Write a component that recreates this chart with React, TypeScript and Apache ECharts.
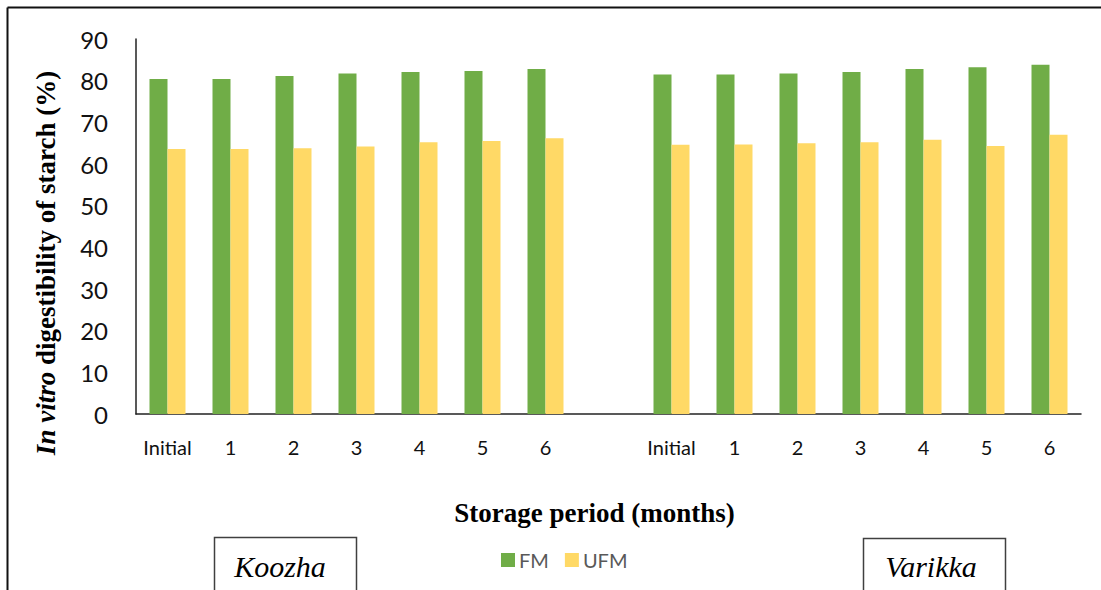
import React, { useEffect, useRef } from "react";
import * as echarts from "echarts";

const categories = ["Initial", "1", "2", "3", "4", "5", "6", "", "Initial", "1", "2", "3", "4", "5", "6"];
const fmValues = [80.4, 80.4, 81.1, 81.7, 82.1, 82.3, 82.8, null, 81.5, 81.5, 81.7, 82.1, 82.8, 83.2, 83.8];
const ufmValues = [63.6, 63.6, 63.8, 64.2, 65.2, 65.5, 66.2, null, 64.6, 64.7, 65.0, 65.2, 65.8, 64.3, 67.0];
const seriesNames = ["FM", "UFM"];
const groupLabels = ["Koozha", "Varikka"];
const yTitleItalic = "In vitro ";
const yTitleRest = "digestibility of starch (%)";
const xTitle = "Storage period (months)";

export default function App() {
  const ref = useRef<HTMLDivElement>(null);
  useEffect(() => {
    const chart = echarts.init(ref.current!, null, { renderer: "svg" });
    const serif = "'Liberation Serif', 'Times New Roman', serif";
    const sans = "Lato, 'Open Sans', sans-serif";
    chart.setOption({
      animation: false,
      backgroundColor: "#ffffff",
      grid: { left: 136, top: 39, right: 20, bottom: 176, containLabel: false },
      legend: {
        data: seriesNames,
        left: 496,
        top: 545,
        icon: "rect",
        itemWidth: 14,
        itemHeight: 14,
        itemGap: 16,
        textStyle: { color: "#595959", fontSize: 20, fontFamily: sans, padding: [0, 0, 0, -1] },
      },
      xAxis: {
        type: "category",
        data: categories,
        axisLine: { show: true, lineStyle: { color: "#222", width: 1.5 } },
        axisTick: { show: false },
        axisLabel: { color: "#111", fontSize: 20, fontFamily: sans, margin: 23, interval: 0 },
        name: xTitle,
        nameLocation: "middle",
        nameGap: 85,
        nameTextStyle: { fontFamily: serif, fontWeight: "bold", fontSize: 27, color: "#000", padding: [0, 28, 0, 0] },
      },
      yAxis: {
        type: "value",
        min: 0,
        max: 90,
        interval: 10,
        axisLine: { show: true, lineStyle: { color: "#222", width: 1.5 } },
        axisTick: { show: false },
        splitLine: { show: false },
        axisLabel: { color: "#111", fontSize: 24, fontFamily: sans, margin: 28 },
      },
      series: [
        {
          name: seriesNames[0],
          type: "bar",
          data: fmValues,
          barWidth: 18,
          barGap: "0%",
          itemStyle: { color: "#70AD47" },
        },
        {
          name: seriesNames[1],
          type: "bar",
          data: ufmValues,
          barWidth: 18,
          barGap: "0%",
          itemStyle: { color: "#FFD966" },
        },
      ],
      graphic: [
        { type: "line", shape: { x1: 7.5, y1: 7.5, x2: 1101, y2: 7.5 }, style: { stroke: "#111", lineWidth: 2 } },
        { type: "line", shape: { x1: 7.5, y1: 7.5, x2: 7.5, y2: 590 }, style: { stroke: "#111", lineWidth: 2 } },
        {
          type: "text",
          x: 46,
          y: 263,
          rotation: Math.PI / 2,
          style: {
            text: "{i|" + yTitleItalic + "}{b|" + yTitleRest + "}",
            align: "center",
            verticalAlign: "middle",
            rich: {
              i: { font: "italic bold 27px " + serif, fill: "#000" },
              b: { font: "bold 27px " + serif, fill: "#000" },
            },
          },
        },
        { type: "rect", shape: { x: 214.5, y: 537.5, width: 142, height: 80 }, style: { fill: "none", stroke: "#404040", lineWidth: 1.5 } },
        { type: "rect", shape: { x: 863.5, y: 538.5, width: 142, height: 80 }, style: { fill: "none", stroke: "#404040", lineWidth: 1.5 } },
        {
          type: "text",
          x: 280,
          y: 566,
          style: { text: groupLabels[0], font: "italic 30px " + serif, fill: "#000", align: "center", verticalAlign: "middle" },
        },
        {
          type: "text",
          x: 931,
          y: 566,
          style: { text: groupLabels[1], font: "italic 30px " + serif, fill: "#000", align: "center", verticalAlign: "middle" },
        },
      ],
    });
    return () => chart.dispose();
  }, []);
  return <div ref={ref} style={{ position: "fixed", left: 0, top: 0, width: 1101, height: 590 }} />;
}
